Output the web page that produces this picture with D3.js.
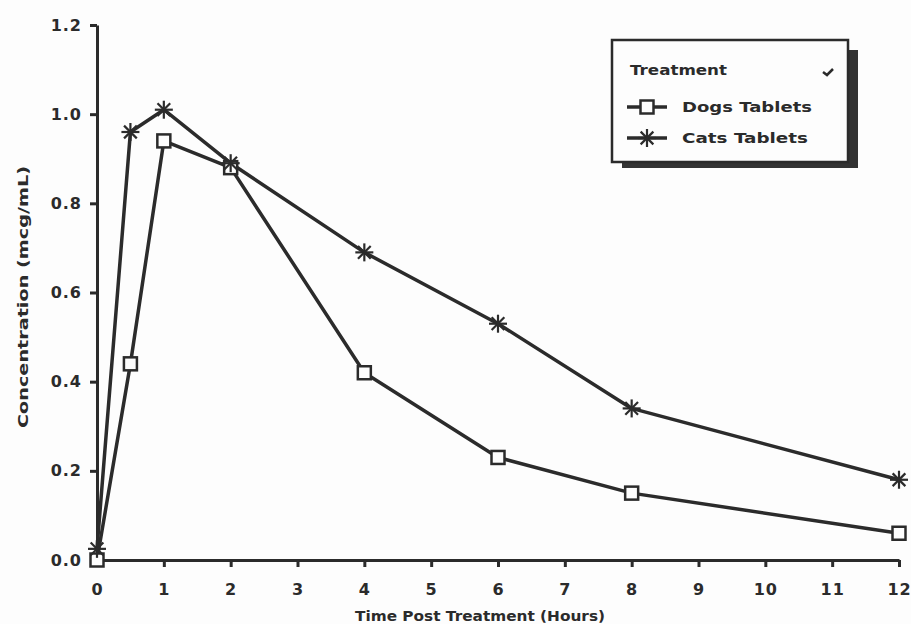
<!DOCTYPE html>
<html lang="en">
<head>
<meta charset="utf-8">
<title>Concentration vs time</title>
<script src="https://cdn.jsdelivr.net/npm/d3@7"></script>
<style>
body { margin: 0; background: #fdfdfd; }
.tick text {
    font-family: "DejaVu Sans", sans-serif;
    font-weight: bold;
    font-size: 16px;
    fill: #2b2b2b;
    letter-spacing: 1px;
}
.tick line, .domain { stroke: #2b2b2b; stroke-width: 3; }
.title {
    font-family: "DejaVu Sans", sans-serif;
    font-weight: bold;
    font-size: 14px;
    fill: #2b2b2b;
}
.series { fill: none; stroke: #2b2b2b; stroke-width: 3.5; stroke-linejoin: round; }
</style>
</head>
<body>
<div id="container"></div>
<script>
// data
var times = [0, 0.5, 1, 2, 4, 6, 8, 12];
var dogs = [0.0, 0.44, 0.94, 0.88, 0.42, 0.23, 0.15, 0.06];
var cats = [0.025, 0.96, 1.01, 0.89, 0.69, 0.53, 0.34, 0.18];
var xTicks = [0, 1, 2, 3, 4, 5, 6, 7, 8, 9, 10, 11, 12];
var yTicks = [0, 0.2, 0.4, 0.6, 0.8, 1.0, 1.2];
var seriesNames = ["Dogs Tablets", "Cats Tablets"];

var w = 911, h = 624;
var ink = "#2b2b2b";

var svg = d3.select("#container").append("svg")
    .attr("width", w).attr("height", h);

var x = d3.scaleLinear().domain([0, 12]).range([97, 899]);
var y = d3.scaleLinear().domain([0, 1.2]).range([560, 25]);

// axes
svg.append("g")
    .attr("transform", "translate(0," + y(0) + ")")
    .call(d3.axisBottom(x).tickValues(xTicks).tickSize(7).tickSizeOuter(0).tickPadding(14))
    .selectAll(".tick text").attr("dy", "0.9em");

svg.append("g")
    .attr("transform", "translate(" + x(0) + ",0)")
    .call(d3.axisLeft(y).tickValues(yTicks).tickFormat(d3.format(".1f")).tickSize(7).tickSizeOuter(0).tickPadding(8));

// titles
svg.append("text").attr("class", "title")
    .attr("x", 480).attr("y", 621)
    .attr("text-anchor", "middle")
    .attr("textLength", 250).attr("lengthAdjust", "spacingAndGlyphs")
    .text("Time Post Treatment (Hours)");

svg.append("text").attr("class", "title")
    .attr("transform", "translate(28,297) rotate(-90)")
    .attr("text-anchor", "middle")
    .attr("textLength", 262).attr("lengthAdjust", "spacingAndGlyphs")
    .text("Concentration (mcg/mL)");

// lines
var line = d3.line()
    .x(function(d, i) { return x(times[i]); })
    .y(function(d) { return y(d); });

svg.append("path").datum(dogs).attr("class", "series").attr("d", line);
svg.append("path").datum(cats).attr("class", "series").attr("d", line);

// markers
function square(g, cx, cy) {
    g.append("rect")
        .attr("x", cx - 6.5).attr("y", cy - 6.5)
        .attr("width", 13).attr("height", 13)
        .attr("fill", "#fdfdfd").attr("stroke", ink).attr("stroke-width", 2.5);
}
function star(g, cx, cy) {
    var r = 9;
    for (var k = 0; k < 4; k++) {
        var a = k * Math.PI / 4;
        g.append("line")
            .attr("x1", cx - r * Math.cos(a)).attr("y1", cy - r * Math.sin(a))
            .attr("x2", cx + r * Math.cos(a)).attr("y2", cy + r * Math.sin(a))
            .attr("stroke", ink).attr("stroke-width", 2.2);
    }
}

var marks = svg.append("g");
dogs.forEach(function(d, i) { square(marks, x(times[i]), y(d)); });
cats.forEach(function(d, i) { star(marks, x(times[i]), y(d)); });

// legend
var lg = svg.append("g");
lg.append("rect").attr("x", 622).attr("y", 50).attr("width", 236).attr("height", 118).attr("fill", "#333");
lg.append("rect").attr("x", 612).attr("y", 40).attr("width", 236).attr("height", 122)
    .attr("fill", "#fdfdfd").attr("stroke", ink).attr("stroke-width", 2.5);

lg.append("text").attr("class", "title")
    .attr("x", 630).attr("y", 75)
    .attr("textLength", 97).attr("lengthAdjust", "spacingAndGlyphs")
    .text("Treatment");
lg.append("path").attr("d", "M823,72 l4,3 l6,-6")
    .attr("fill", "none").attr("stroke", ink).attr("stroke-width", 2.5);

var legendY = [107, 138];
var legendW = [130, 126];
seriesNames.forEach(function(name, i) {
    var ly = legendY[i];
    lg.append("line").attr("x1", 627).attr("x2", 667).attr("y1", ly).attr("y2", ly)
        .attr("stroke", ink).attr("stroke-width", 3.5);
    if (i === 0) square(lg, 647, ly); else star(lg, 647, ly);
    lg.append("text").attr("class", "title")
        .attr("x", 682).attr("y", ly + 5)
        .attr("textLength", legendW[i]).attr("lengthAdjust", "spacingAndGlyphs")
        .text(name);
});
</script>
</body>
</html>
